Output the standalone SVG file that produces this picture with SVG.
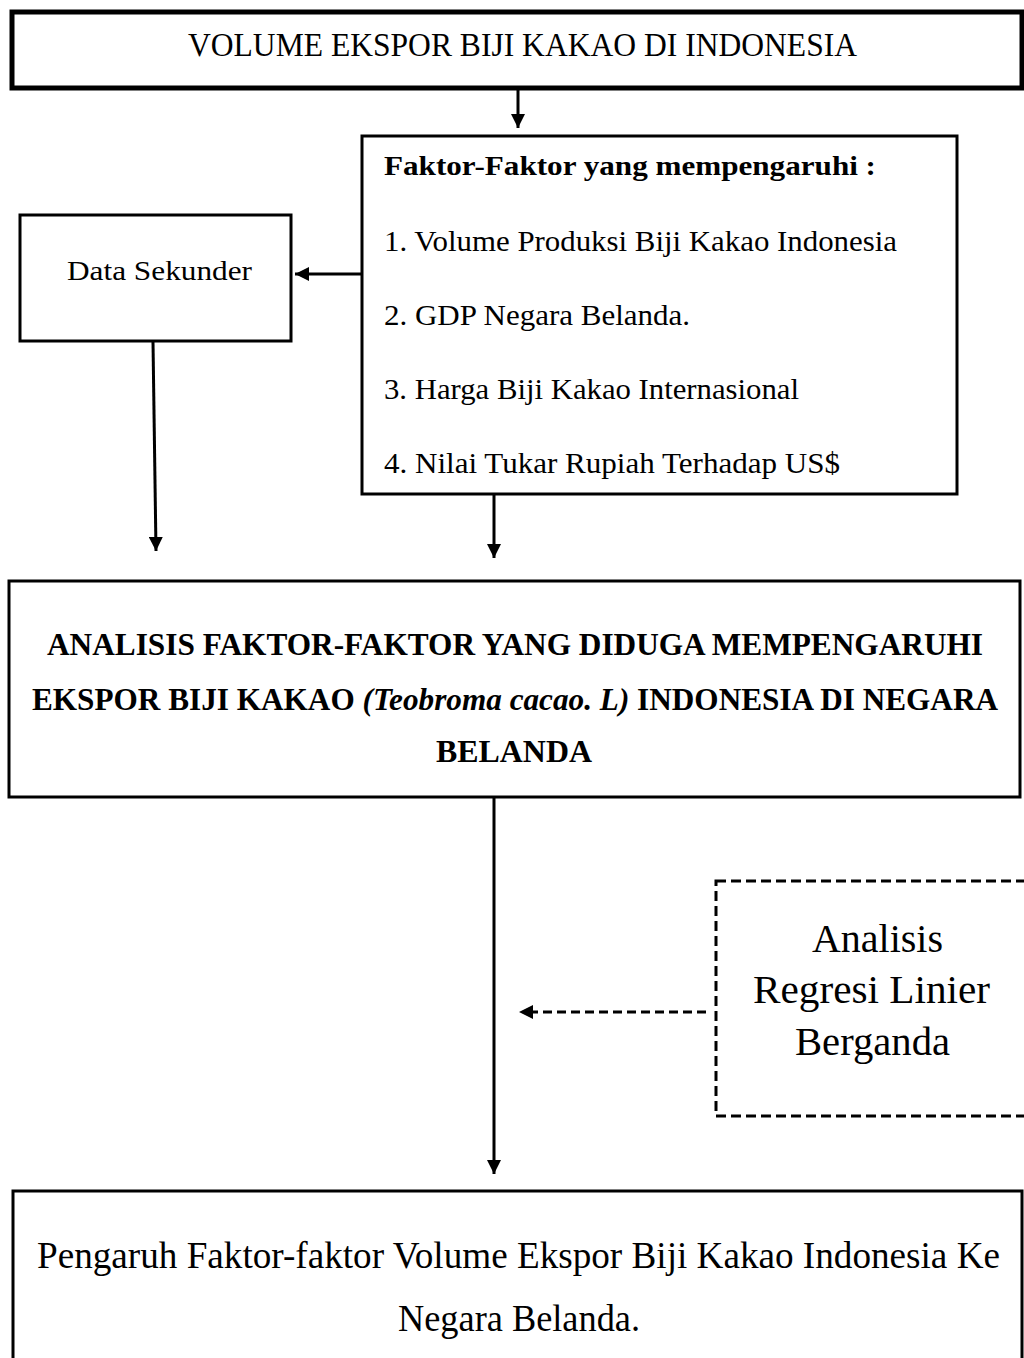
<svg xmlns="http://www.w3.org/2000/svg" width="1024" height="1358" viewBox="0 0 1024 1358">
<defs>
<marker id="ah" viewBox="0 0 14 14" refX="14" refY="7" markerWidth="14" markerHeight="14" markerUnits="userSpaceOnUse" orient="auto">
<path d="M0,0 L14,7 L0,14 z" fill="#000"/>
</marker>
</defs>
<style>
.box{fill:#fff;stroke:#000;stroke-width:3}
.thick{stroke-width:5}
.dash{fill:#fff;stroke:#000;stroke-width:3;stroke-dasharray:10 5}
.t{font-family:"Liberation Serif","Times New Roman",serif;fill:#000}
.b{font-weight:bold}
.ln{stroke:#000;stroke-width:3;fill:none;marker-end:url(#ah)}
.dl{stroke:#000;stroke-width:3;fill:none;stroke-dasharray:9 5}
</style>
<rect width="1024" height="1358" fill="#fff"/>
<g id="node-volume">
<rect class="box thick" x="12" y="12" width="1010" height="76"/>
<text class="t" x="188" y="56" font-size="34" textLength="669" lengthAdjust="spacingAndGlyphs">VOLUME EKSPOR BIJI KAKAO DI INDONESIA</text>
</g>
<g id="node-faktor">
<rect class="box" x="362" y="136" width="595" height="358"/>
<text class="t b" x="384" y="175" font-size="27" textLength="492" lengthAdjust="spacingAndGlyphs">Faktor-Faktor yang mempengaruhi :</text>
<text class="t" x="384" y="251" font-size="30" textLength="513" lengthAdjust="spacingAndGlyphs">1. Volume Produksi Biji Kakao Indonesia</text>
<text class="t" x="384" y="325" font-size="30" textLength="306" lengthAdjust="spacingAndGlyphs">2. GDP Negara Belanda.</text>
<text class="t" x="384" y="399" font-size="30" textLength="415" lengthAdjust="spacingAndGlyphs">3. Harga Biji Kakao Internasional</text>
<text class="t" x="384" y="473" font-size="30" textLength="456" lengthAdjust="spacingAndGlyphs">4. Nilai Tukar Rupiah Terhadap US$</text>
</g>
<g id="node-data">
<rect class="box" x="20" y="215" width="271" height="126"/>
<text class="t" x="67" y="280" font-size="28" textLength="185" lengthAdjust="spacingAndGlyphs">Data Sekunder</text>
</g>
<g id="node-analisis">
<rect class="box" x="9" y="581" width="1011" height="216"/>
<text class="t b" x="47" y="655" font-size="31" textLength="936" lengthAdjust="spacingAndGlyphs">ANALISIS FAKTOR-FAKTOR YANG DIDUGA MEMPENGARUHI</text>
<text class="t b" x="32" y="710" font-size="31" textLength="966" lengthAdjust="spacingAndGlyphs">EKSPOR BIJI KAKAO <tspan font-style="italic">(Teobroma  cacao. L)</tspan> INDONESIA DI NEGARA</text>
<text class="t b" x="436" y="762" font-size="31" textLength="156" lengthAdjust="spacingAndGlyphs">BELANDA</text>
</g>
<g id="node-regresi">
<rect class="dash" x="716" y="881" width="330" height="235"/>
<text class="t" x="812" y="952" font-size="40" textLength="131" lengthAdjust="spacingAndGlyphs">Analisis</text>
<text class="t" x="753" y="1003" font-size="40" textLength="237" lengthAdjust="spacingAndGlyphs">Regresi Linier</text>
<text class="t" x="795" y="1055" font-size="40" textLength="155" lengthAdjust="spacingAndGlyphs">Berganda</text>
</g>
<g id="node-pengaruh">
<rect class="box" x="13" y="1191" width="1009" height="180"/>
<text class="t" x="37" y="1268" font-size="38" textLength="963" lengthAdjust="spacingAndGlyphs">Pengaruh Faktor-faktor Volume Ekspor Biji Kakao Indonesia Ke</text>
<text class="t" x="398" y="1331" font-size="38" textLength="242" lengthAdjust="spacingAndGlyphs">Negara Belanda.</text>
</g>
<g id="connectors">
<line class="ln" x1="518" y1="90" x2="518" y2="128"/>
<line class="ln" x1="361" y1="274" x2="295" y2="274"/>
<line class="ln" x1="153" y1="342" x2="156" y2="551"/>
<line class="ln" x1="494" y1="495" x2="494" y2="558"/>
<line class="ln" x1="494" y1="798" x2="494" y2="1174"/>
<line class="dl" x1="706" y1="1012" x2="532" y2="1012"/>
<path d="M519,1012 L533,1005 L533,1019 z" fill="#000"/>
</g>
</svg>
